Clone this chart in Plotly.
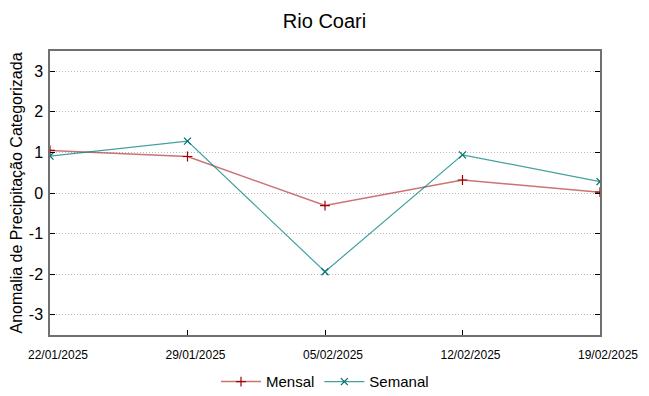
import plotly.graph_objects as go

dates = ["22/01/2025", "29/01/2025", "05/02/2025", "12/02/2025", "19/02/2025"]
mensal = [1.05, 0.90, -0.31, 0.32, 0.02]
semanal = [0.91, 1.28, -1.94, 0.94, 0.28]
yticks = [-3, -2, -1, 0, 1, 2, 3]

narrow = "Liberation Sans Narrow, Liberation Sans, sans-serif"

fig = go.Figure()
fig.add_trace(go.Scatter(
    x=dates, y=mensal, name="Mensal", mode="lines+markers",
    line=dict(color="rgba(170,30,30,0.62)", width=1.5),
    marker=dict(symbol="cross-thin", size=7, line=dict(color="#a00000", width=1.2)),
))
fig.add_trace(go.Scatter(
    x=dates, y=semanal, name="Semanal", mode="lines+markers",
    line=dict(color="rgba(0,128,128,0.75)", width=1.2),
    marker=dict(symbol="x-thin", size=7, line=dict(color="#007070", width=1.2)),
))

fig.update_layout(
    width=641, height=388,
    margin=dict(l=42, r=49, t=43, b=61, autoexpand=False),
    paper_bgcolor="white", plot_bgcolor="white",
    font=dict(family="Liberation Sans, Arial, sans-serif", color="black"),
    title=dict(text="Rio Coari", x=0.4938, xanchor="center", y=0.966, yanchor="middle",
               font=dict(size=20, family=narrow)),
    showlegend=True,
    legend=dict(orientation="h", x=0.5, xanchor="center", y=-0.165, yanchor="middle",
                font=dict(size=15, family=narrow),
                itemwidth=40),
)
fig.update_xaxes(
    type="category", range=[0, 4], showgrid=False, automargin=False,
    showline=True, linecolor="#707070", linewidth=1.5, mirror=True,
    ticks="inside", ticklen=5, tickcolor="black", ticklabelstandoff=8,
    ticklabelshift=8,
    tickfont=dict(size=12, family=narrow),
    zeroline=False,
)
fig.update_yaxes(
    range=[-3.5, 3.5], tickvals=yticks, ticktext=[str(v) for v in yticks],
    automargin=False,
    showgrid=True, gridcolor="#b8b8b8", griddash="1px,2px", gridwidth=1,
    showline=True, linecolor="#707070", linewidth=1.5, mirror="allticks",
    ticks="inside", ticklen=5, tickcolor="black", ticklabelstandoff=2,
    tickfont=dict(size=16, family=narrow),
    title=dict(text="Anomalia de Precipitação Categorizada", font=dict(size=16, family=narrow), standoff=2),
    zeroline=False,
)

fig.write_html("out.html")
